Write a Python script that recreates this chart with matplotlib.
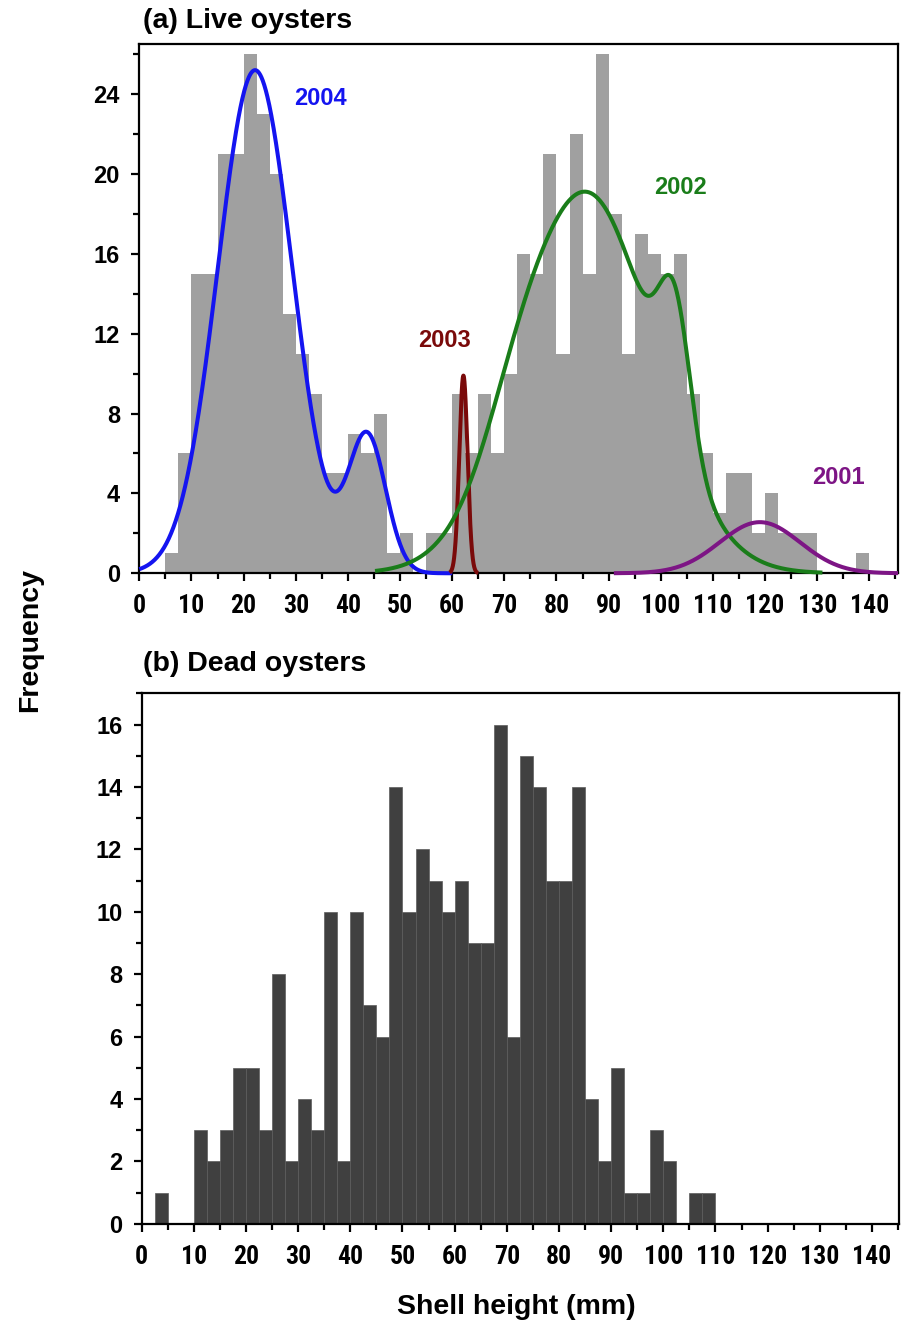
import numpy as np
import matplotlib
matplotlib.use("Agg")
import matplotlib.pyplot as plt
from matplotlib import font_manager
from matplotlib.ticker import MultipleLocator

# ---------------- data ----------------
bin_width = 2.5
# (a) live oysters: counts per 2.5 mm bin starting at 0 mm
live_counts = [0, 0, 1, 6, 15, 15, 21, 21, 26, 23, 20, 13, 11, 9, 5, 5,
               7, 6, 8, 1, 2, 0, 2, 2, 9, 6, 9, 6, 10, 16, 15, 21,
               11, 22, 15, 26, 18, 11, 17, 16, 15, 16, 9, 6, 3, 5, 5, 2,
               4, 2, 2, 2, 0, 0, 0, 1]
# (b) dead oysters: counts per 2.5 mm bin starting at 0 mm
dead_counts = [0, 1, 0, 0, 3, 2, 3, 5, 5, 3, 8, 2, 4, 3, 10, 2,
               10, 7, 6, 14, 10, 12, 11, 10, 11, 9, 9, 16, 6, 15, 14, 11,
               11, 14, 4, 2, 5, 1, 1, 3, 2, 0, 1, 1]

# fitted cohort components (Gaussian mixture)
cohorts = ["2004", "2003", "2002", "2001"]
comp_cohort = ["2004", "2004", "2003", "2002", "2002", "2002", "2001"]
comp_mean = [22.2, 43.7, 62.15, 85.8, 102.7, 72.0, 119.0]
comp_sd = [7.16, 3.58, 0.79, 12.7, 3.0, 6.0, 7.7]
comp_peak = [25.2, 6.8, 9.9, 19.0, 6.6, 1.5, 2.56]
curve_start = [0.0, 59.5, 45.2, 91.0]
curve_end = [60.0, 65.0, 131.0, 145.5]
cohort_colors = ["#1414f0", "#7a0a0a", "#1a7d1a", "#7d1585"]
label_x = [34.7, 58.5, 103.7, 134.0]
label_y = [23.8, 11.65, 19.3, 4.8]

# ---------------- fonts ----------------
names = {f.name for f in font_manager.fontManager.ttflist}
narrow = "Liberation Sans"
for cand in ["Liberation Sans Narrow", "Arial Narrow", "Roboto Condensed",
             "Barlow Semi Condensed", "Asap Condensed"]:
    if cand in names:
        narrow = cand
        break
regular = "Liberation Sans"
plt.rcParams["font.family"] = [regular, "DejaVu Sans"]
plt.rcParams["font.weight"] = "bold"

fig = plt.figure(figsize=(9.06, 13.27), dpi=100)
ax1 = fig.add_axes([0.1538, 0.568, 0.8374, 0.3987])
ax2 = fig.add_axes([0.1564, 0.0778, 0.8359, 0.3996])

lefts_live = np.arange(len(live_counts)) * bin_width
lefts_dead = np.arange(len(dead_counts)) * bin_width

ax1.bar(lefts_live, live_counts, width=bin_width, align="edge",
        color="#a0a0a0", linewidth=0, zorder=1)
ax2.bar(lefts_dead, dead_counts, width=bin_width, align="edge",
        color="#404040", edgecolor="#5c5c5c", linewidth=0.5, zorder=1)

for ci, name in enumerate(cohorts):
    x = np.linspace(curve_start[ci], curve_end[ci], 800)
    y = np.zeros_like(x)
    for k, cname in enumerate(comp_cohort):
        if cname == name:
            y += comp_peak[k] * np.exp(-0.5 * ((x - comp_mean[k]) / comp_sd[k]) ** 2)
    ax1.plot(x, y, color=cohort_colors[ci], lw=2.9, zorder=3, clip_on=False,
             solid_capstyle="butt")
    ax1.text(label_x[ci], label_y[ci], name, color=cohort_colors[ci],
             fontsize=17, fontweight="bold", ha="center", va="center",
             family=regular)

ax1.set_xlim(0, 145.5)
ax1.set_ylim(0, 26.5)
ax2.set_xlim(0, 145.2)
ax2.set_ylim(0, 17)

ax1.xaxis.set_major_locator(MultipleLocator(10))
ax1.xaxis.set_minor_locator(MultipleLocator(5))
ax1.yaxis.set_major_locator(MultipleLocator(4))
ax1.yaxis.set_minor_locator(MultipleLocator(2))
ax2.xaxis.set_major_locator(MultipleLocator(10))
ax2.xaxis.set_minor_locator(MultipleLocator(5))
ax2.yaxis.set_major_locator(MultipleLocator(2))
ax2.yaxis.set_minor_locator(MultipleLocator(1))

for ax in (ax1, ax2):
    for s in ax.spines.values():
        s.set_linewidth(1.6)
        s.set_color("black")
    ax.tick_params(axis="both", which="major", direction="out", length=6,
                   width=1.6, colors="black")
    ax.tick_params(axis="both", which="minor", direction="out", length=4,
                   width=1.6, colors="black")
    ax.tick_params(axis="x", which="major", pad=9, labelsize=18.5,
                   labelfontfamily=narrow)
    ax.tick_params(axis="y", which="major", pad=8, labelsize=17,
                   labelfontfamily=regular)

fig.text(143 / 906, 1 - 21 / 1327, "(a) Live oysters", fontsize=20.5,
         fontweight="bold", ha="left", va="center")
fig.text(143 / 906, 1 - 664 / 1327, "(b) Dead oysters", fontsize=20.5,
         fontweight="bold", ha="left", va="center")
fig.text(30 / 906, 1 - 640 / 1327, "Frequency", fontsize=20.5,
         fontweight="bold", ha="center", va="center", rotation=90)
fig.text(516 / 906, 1 - 1307 / 1327, "Shell height (mm)", fontsize=20.5,
         fontweight="bold", ha="center", va="center")

fig.savefig("out.png", dpi=100)
